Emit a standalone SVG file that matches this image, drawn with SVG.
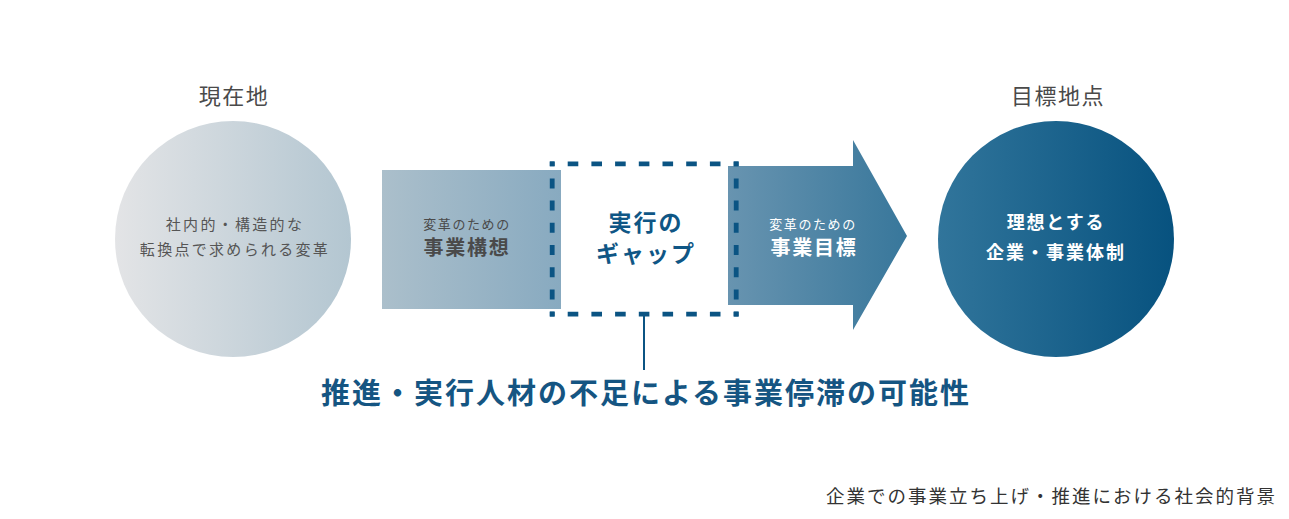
<svg xmlns="http://www.w3.org/2000/svg" width="1289" height="519" viewBox="0 0 1289 519">
  <defs>
    <linearGradient id="gLeftCircle" x1="0" y1="0" x2="1" y2="0">
      <stop offset="0" stop-color="#e3e4e6"/>
      <stop offset="1" stop-color="#b3c6d1"/>
    </linearGradient>
    <linearGradient id="gRect" x1="0" y1="0" x2="1" y2="0">
      <stop offset="0" stop-color="#abbfcb"/>
      <stop offset="1" stop-color="#88aac0"/>
    </linearGradient>
    <linearGradient id="gArrow" gradientUnits="userSpaceOnUse" x1="728" y1="0" x2="907" y2="0">
      <stop offset="0" stop-color="#6894b0"/>
      <stop offset="1" stop-color="#38779b"/>
    </linearGradient>
    <linearGradient id="gRightCircle" x1="0" y1="0" x2="1" y2="0">
      <stop offset="0" stop-color="#31759b"/>
      <stop offset="1" stop-color="#07527f"/>
    </linearGradient>
  </defs>
  <style>
    text { font-family: "Noto Sans CJK JP", "Noto Sans CJK SC", sans-serif; text-anchor: middle; }
    .head { font-size: 22px; fill: #4a4a4a; letter-spacing: 1.5px; }
    .grey { font-size: 15px; fill: #555555; letter-spacing: 2.3px; }
    .small { font-size: 13px; letter-spacing: 1.6px; }
    .big { font-size: 20px; font-weight: 700; letter-spacing: 1.8px; }
    .dark { fill: #4a4a4a; }
    .white { fill: #ffffff; }
    .gap { font-size: 23px; font-weight: 700; fill: #0f5685; letter-spacing: 2px; }
    .dash { stroke: #0b5483; stroke-width: 4.8; fill: none; }
    .main { font-size: 29px; font-weight: 700; fill: #155582; letter-spacing: 2px; }
    .note { font-size: 18.5px; fill: #333333; letter-spacing: 2px; text-anchor: end; }
  </style>

  <g id="current">
    <text class="head" x="234" y="104">現在地</text>
    <circle cx="233" cy="239" r="118" fill="url(#gLeftCircle)"/>
    <text class="grey" x="235" y="230">社内的・構造的な</text>
    <text class="grey" x="235" y="255">転換点で求められる変革</text>
  </g>

  <g id="concept">
    <rect x="382" y="170" width="179" height="139" fill="url(#gRect)"/>
    <text class="small dark" x="467" y="229">変革のための</text>
    <text class="big dark" x="467" y="255">事業構想</text>
  </g>

  <g id="target-arrow">
    <polygon points="728,166 853,166 853,140 907,236 853,330 853,305 728,305" fill="url(#gArrow)"/>
    <text class="small white" x="813" y="229">変革のための</text>
    <text class="big white" x="814" y="255">事業目標</text>
  </g>

  <g id="gap">
    <line class="dash" x1="549.8" y1="163.8" x2="738.6" y2="163.8" stroke-dasharray="10.6 13.1" stroke-dashoffset="5.8"/>
    <line class="dash" x1="549.8" y1="314.2" x2="738.6" y2="314.2" stroke-dasharray="10.6 13.1" stroke-dashoffset="5.8"/>
    <line class="dash" x1="552.2" y1="161.4" x2="552.2" y2="316.6" stroke-dasharray="10 12.2" stroke-dashoffset="5.2"/>
    <line class="dash" x1="736.2" y1="161.4" x2="736.2" y2="316.6" stroke-dasharray="10 12.2" stroke-dashoffset="5.2"/>
    <text class="gap" x="646" y="231">実行の</text>
    <text class="gap" x="646" y="262">ギャップ</text>
  </g>

  <g id="goal">
    <text class="head" x="1058" y="104">目標地点</text>
    <circle cx="1056" cy="239" r="118" fill="url(#gRightCircle)"/>
    <text class="white" x="1056" y="229" style="font-size:18px;font-weight:700;letter-spacing:1.8px">理想とする</text>
    <text class="white" x="1056" y="259" style="font-size:18px;font-weight:700;letter-spacing:2px">企業・事業体制</text>
  </g>

  <g id="connectors">
    <line x1="644" y1="316" x2="644" y2="370" stroke="#0b5483" stroke-width="2"/>
  </g>

  <g id="issue">
    <text class="main" x="646" y="404">推進・実行人材の不足による事業停滞の可能性</text>
  </g>

  <g id="caption">
    <text class="note" x="1277" y="503">企業での事業立ち上げ・推進における社会的背景</text>
  </g>
</svg>
